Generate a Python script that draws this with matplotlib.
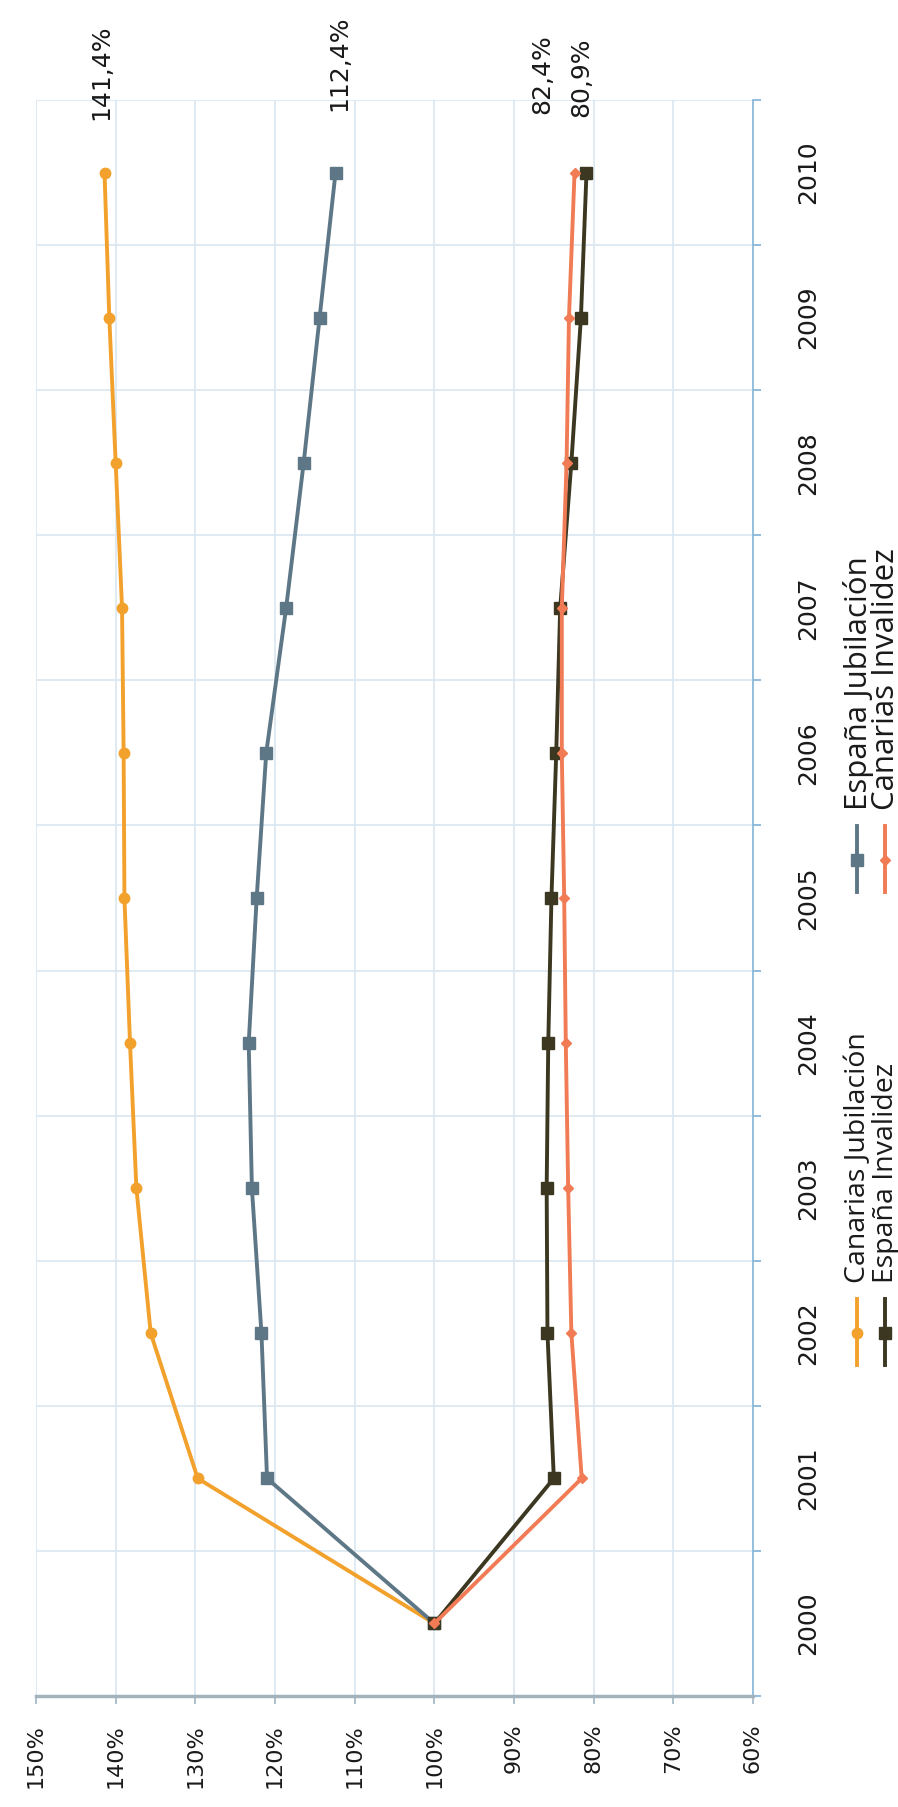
import matplotlib
matplotlib.use("Agg")
from matplotlib import pyplot as plt
from matplotlib.lines import Line2D
import numpy as np

# data (index 2000 = 100%)
years = ["2000", "2001", "2002", "2003", "2004", "2005", "2006", "2007", "2008", "2009", "2010"]
canarias_jubilacion = [100, 129.7, 135.6, 137.4, 138.2, 138.9, 139.0, 139.2, 140.0, 140.8, 141.4]
espana_jubilacion = [100, 121.0, 121.7, 122.9, 123.3, 122.3, 121.1, 118.6, 116.4, 114.4, 112.4]
espana_invalidez = [100, 85.0, 85.8, 85.9, 85.7, 85.3, 84.7, 84.2, 82.8, 81.6, 80.9]
canarias_invalidez = [100, 81.5, 82.8, 83.2, 83.5, 83.7, 84.0, 84.0, 83.4, 83.1, 82.4]
value_ticks = [60, 70, 80, 90, 100, 110, 120, 130, 140, 150]

W, H = 898, 1807
fig = plt.figure(figsize=(W / 100, H / 100), dpi=100)
# the chart is printed rotated 90 degrees: years run bottom -> top, values right -> left
ax = fig.add_axes([36 / W, 1 - 1696 / H, (753 - 36) / W, (1696 - 100) / H])

series = [
	(canarias_jubilacion, "#F2A12C", "o", 7.5, "Canarias Jubilación"),
	(espana_jubilacion, "#5E7786", "s", 8, "España Jubilación"),
	(espana_invalidez, "#3B3720", "s", 8, "España Invalidez"),
	(canarias_invalidez, "#F07B55", "D", 5.5, "Canarias Invalidez"),
]
ypos = np.arange(len(years))
for vals, col, mk, ms, name in series:
	ax.plot(vals, ypos, color=col, lw=2.8, marker=mk, ms=ms, zorder=3)

ax.set_xlim(150, 60)
ax.set_ylim(-0.5, len(years) - 0.5)

# value axis (bottom)
ax.set_xticks(value_ticks)
ax.set_xticklabels([f"{v}%" for v in value_ticks], rotation=90, fontsize=16)
ax.tick_params(axis="x", length=6, width=1.2, color="#9FB6C6", pad=14, labelcolor="#1a1a1a")
ax.xaxis.grid(True, color="#DCE8F1", lw=1.3)

# category axis (right)
ax.yaxis.tick_right()
ax.set_yticks(ypos)
ax.set_yticklabels(years, rotation=90, fontsize=18, va="center")
ax.tick_params(axis="y", which="major", length=0, pad=31, labelcolor="#1a1a1a")
ax.set_yticks(np.arange(len(years) + 1) - 0.5, minor=True)
ax.tick_params(axis="y", which="minor", length=6, width=1.2, color="#7FB2D8")
ax.yaxis.grid(True, which="minor", color="#DCE8F1", lw=1.3)
ax.set_axisbelow(True)

for s in ["top", "left"]:
	ax.spines[s].set_visible(False)
ax.spines["right"].set_color("#86B6DA")
ax.spines["right"].set_linewidth(1.2)
ax.spines["bottom"].set_color("#A3B3BC")
ax.spines["bottom"].set_linewidth(2.5)

# data labels for the last year
label_offsets = [(-2, 38), (3, 44), (-4, 40), (-23, 42)]
for (vals, col, mk, ms, name), (dx, dy) in zip(series, label_offsets):
	ax.annotate(f"{vals[-1]:.1f}%".replace(".", ","), xy=(vals[-1], ypos[-1]),
		xytext=(dx, dy), textcoords="offset points", rotation=90,
		ha="center", va="bottom", fontsize=18, color="#1a1a1a", annotation_clip=False)

# legend, drawn by hand because it is rotated too
def px(x, y):
	return x / W, 1 - y / H

legend_blocks = [
	(1283, 20.5, [(857, series[0]), (885, series[2])]),
	(810, 22.5, [(857, series[1]), (885, series[3])]),
]
for y0, fs, items in legend_blocks:
	for x0, (vals, col, mk, ms, name) in items:
		(xa, ya), (xb, yb) = px(x0, y0 + 16), px(x0, y0 + 82)
		fig.add_artist(Line2D([xa, xb], [ya, yb], color=col, lw=2.8, transform=fig.transFigure))
		xm, ym = px(x0, y0 + 50)
		fig.add_artist(Line2D([xm], [ym], color=col, marker=mk, ms=ms, transform=fig.transFigure))
		xt, yt = px(x0 + 1, y0)
		fig.text(xt, yt, name, rotation=90, ha="center", va="bottom", fontsize=fs,
			family="Open Sans", color="#1a1a1a")

fig.savefig("out.png", dpi=100, facecolor="white")
